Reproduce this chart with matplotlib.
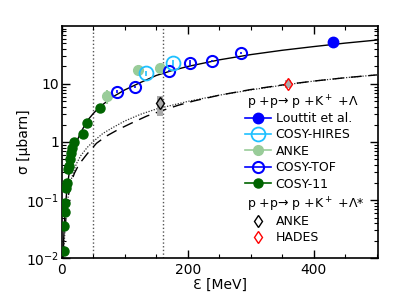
import matplotlib
matplotlib.use("Agg")
import matplotlib.pyplot as plt
from matplotlib.lines import Line2D
from matplotlib.ticker import FixedLocator, FixedFormatter, LogLocator, MultipleLocator, NullFormatter

plt.rcParams['font.family'] = ['DejaVu Sans']
plt.rcParams['mathtext.default'] = 'regular'

# ---- data ----
c11_x = [2.7, 3.7, 4.7, 5.7, 6.7, 8.7, 9.7, 10.7, 12.7, 14.7, 16.7, 18.7, 33, 40, 60]
c11_y = [0.013, 0.036, 0.062, 0.09, 0.16, 0.2, 0.34, 0.38, 0.5, 0.65, 0.8, 1.0, 1.4, 2.1, 3.9]

anke_x = [71, 121, 156]
anke_y = [6.2, 17.5, 18.5]
anke_err = [1.6, 3.0, 3.5]

hires_x = [133, 177]
hires_y = [15.3, 23.0]
hires_err = [1.5, 2.5]

tof_x = [87, 116, 170, 204, 239, 285]
tof_y = [7.4, 8.8, 16.6, 23.0, 25.0, 33.7]
tof_err = [0.4, 0.4, 0.8, 3.0, 1.0, 1.5]

lou_x = [431]
lou_y = [52.0]
lou_err = [8.0]

ankeS_x = [156]
ankeS_y = [4.7]
ankeS_box_lo = [2.8]
ankeS_box_hi = [6.3]

hades_x = [359]
hades_y = [10.0]
hades_box_lo = [8.5]
hades_box_hi = [11.8]

solid_x = [2, 3, 4, 5, 6, 8, 10, 13, 16, 20, 25, 30, 40, 50, 60, 80, 100, 125, 150, 175, 200, 250, 300, 350, 400, 450, 500]
solid_y = [0.01, 0.022, 0.04, 0.06, 0.085, 0.15, 0.22, 0.36, 0.5, 0.75, 1.1, 1.45, 2.3, 3.1, 4.0, 5.9, 7.9, 10.6, 14.0, 17.0, 20.0, 26.0, 32.0, 38.0, 44.0, 50.5, 57.0]

dot_x = [3, 4, 6, 8, 12, 16, 23, 30, 40, 50, 65, 80, 100, 125, 150, 200, 250, 300, 350, 400, 450, 500]
dot_y = [0.01, 0.02, 0.045, 0.08, 0.16, 0.25, 0.42, 0.58, 0.8, 1.02, 1.4, 1.75, 2.3, 3.0, 3.7, 5.0, 6.4, 7.9, 9.5, 11.2, 12.8, 14.3]

dash_x = [5, 8, 12, 16, 20, 25, 30, 40, 55, 70, 90, 110, 135, 160, 185, 210, 250, 300, 350, 400, 450, 500]
dash_y = [0.03, 0.08, 0.15, 0.22, 0.29, 0.37, 0.45, 0.62, 0.95, 1.25, 1.65, 2.1, 2.8, 3.5, 4.3, 5.1, 6.4, 8.0, 9.6, 11.2, 12.8, 14.3]

vlines_x = [50, 160]

legend1_title = 'p +p→ p +K$^+$ +Λ'
legend1_labels = ['Louttit et al.', 'COSY-HIRES', 'ANKE', 'COSY-TOF', 'COSY-11']
legend2_title = 'p +p→ p +K$^+$ +Λ*'
legend2_labels = ['ANKE', 'HADES']

c_lou = '#0000ff'
c_hires = '#1ec0ff'
c_anke = '#99cc99'
c_tof = '#0000ff'
c_c11 = '#006400'

fig = plt.figure(figsize=(4.15, 3.08), dpi=100)
ax = fig.add_axes([0.149, 0.162, 0.762, 0.754])

for xv in vlines_x:
    ax.axvline(xv, color='#555555', ls=':', lw=1.0, zorder=1)

ax.plot(solid_x, solid_y, color='black', lw=1.0, zorder=2)
ax.plot(dot_x, dot_y, color='#333333', ls=(0, (1, 1.2)), lw=0.9, zorder=2)
ax.plot(dash_x, dash_y, color='black', ls=(0, (8, 5)), lw=1.0, zorder=2)

# grey boxes behind Lambda* points
for xs, lo, hi in zip(ankeS_x + hades_x, ankeS_box_lo + hades_box_lo, ankeS_box_hi + hades_box_hi):
    ax.fill_between([xs - 5, xs + 5], [lo, lo], [hi, hi], color='#aaaaaa', lw=0, zorder=2)

ax.errorbar(anke_x, anke_y, yerr=anke_err, fmt='o', color=c_anke, ms=7, mec=c_anke, elinewidth=1.5, capsize=0, zorder=3)
ax.errorbar(c11_x, c11_y, fmt='o', color=c_c11, ms=6.5, mec=c_c11, zorder=4)
ax.errorbar(tof_x, tof_y, yerr=tof_err, fmt='o', color=c_tof, ms=8, mfc='none', mec=c_tof, mew=1.5, elinewidth=1.2, capsize=0, zorder=5)
ax.errorbar(hires_x, hires_y, yerr=hires_err, fmt='o', color=c_hires, ms=10, mfc='none', mec=c_hires, mew=1.3, elinewidth=1.2, capsize=0, zorder=5)
ax.errorbar(lou_x, lou_y, yerr=lou_err, fmt='o', color=c_lou, ms=7.5, mec=c_lou, elinewidth=1.5, capsize=0, zorder=6)
ax.plot(ankeS_x, ankeS_y, 'd', ms=6, mfc='none', mec='black', mew=1.0, zorder=6)
ax.plot(hades_x, hades_y, 'd', ms=6, mfc='none', mec='red', mew=1.0, zorder=6)

ax.set_yscale('log')
ax.set_xlim(0, 502)
ax.set_ylim(0.01, 100)

ax.yaxis.set_major_locator(FixedLocator([0.01, 0.1, 1, 10]))
ax.yaxis.set_major_formatter(FixedFormatter(['$10^{-2}$', '$10^{-1}$', '1', '10']))
ax.yaxis.set_minor_locator(LogLocator(base=10, subs=[2, 3, 4, 5, 6, 7, 8, 9], numticks=20))
ax.yaxis.set_minor_formatter(NullFormatter())
ax.xaxis.set_major_locator(FixedLocator([0, 200, 400]))
ax.xaxis.set_minor_locator(MultipleLocator(50))

ax.tick_params(which='both', direction='in', top=True, right=True, labelsize=10)
ax.tick_params(which='major', length=6, width=1)
ax.tick_params(which='minor', length=3, width=0.8)
ax.tick_params(axis='y', which='major', pad=2)
for s in ax.spines.values():
    s.set_linewidth(1.2)

ax.set_xlabel('Ɛ [MeV]', fontsize=10, labelpad=1)
ax.set_ylabel('σ [μbarn]', fontsize=10)
ax.yaxis.set_label_coords(-0.098, 0.5)

# legends
fig.text(247 / 415, 1 - 103 / 308, legend1_title, fontsize=9, va='center', ha='left')
h1 = [Line2D([], [], color=c_lou, marker='o', ms=7.5, lw=1.2),
      Line2D([], [], color=c_hires, marker='o', ms=10, mfc='none', mew=1.3, lw=1.2),
      Line2D([], [], color=c_anke, marker='o', ms=7, lw=1.2),
      Line2D([], [], color=c_tof, marker='o', ms=8, mfc='none', mew=1.5, lw=1.2),
      Line2D([], [], color=c_c11, marker='o', ms=6.5, lw=1.2)]
leg1 = ax.legend(h1, legend1_labels, loc='upper left',
                 bbox_to_anchor=(245 / 415, 1 - 112 / 308), bbox_transform=fig.transFigure,
                 frameon=False, fontsize=9, handlelength=2.1,
                 handletextpad=0.35, labelspacing=0.27, borderpad=0, borderaxespad=0)
ax.add_artist(leg1)

fig.text(247 / 415, 1 - 205 / 308, legend2_title, fontsize=9, va='center', ha='left')
h2 = [Line2D([], [], color='black', marker='d', ms=6, mfc='none', lw=0),
      Line2D([], [], color='red', marker='d', ms=6, mfc='none', lw=0)]
leg2 = ax.legend(h2, legend2_labels, loc='upper left',
                 bbox_to_anchor=(245 / 415, 1 - 215 / 308), bbox_transform=fig.transFigure,
                 frameon=False, fontsize=9, handlelength=2.1,
                 handletextpad=0.35, labelspacing=0.27, borderpad=0, borderaxespad=0)

fig.savefig('out.png', dpi=100)
